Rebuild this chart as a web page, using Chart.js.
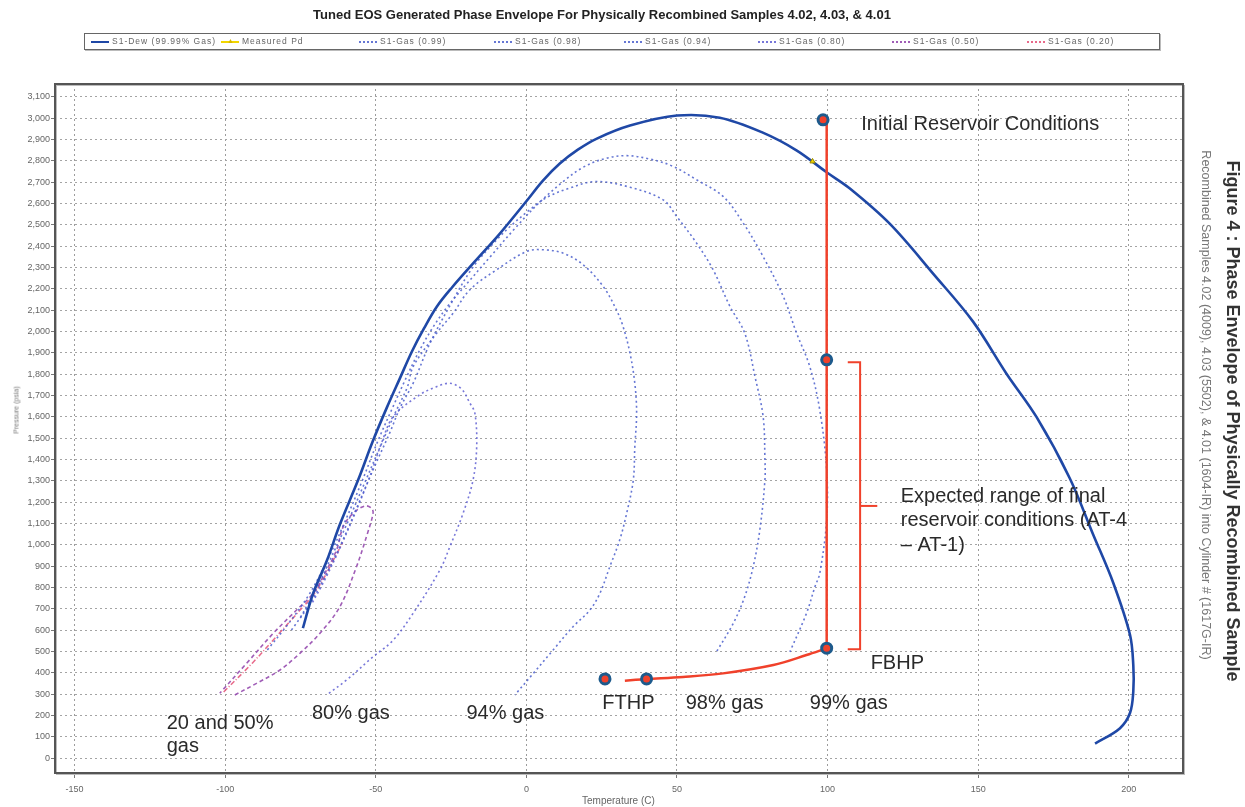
<!DOCTYPE html>
<html>
<head>
<meta charset="utf-8">
<script src="https://cdn.jsdelivr.net/npm/chart.js@4.4.1/dist/chart.umd.min.js"></script>
<style>
  body { margin: 0; background: #fff; font-family: 'Liberation Sans', Arial, sans-serif; }
  #wrap { position: relative; width: 1245px; height: 807px; overflow: hidden; }
  #chart { position: absolute; left: 0; top: 0; }
  .title { position: absolute; left: 202px; width: 800px; top: 7px; text-align: center; font-weight: bold; font-size: 13px; color: #222; white-space: nowrap; }
  .legend { position: absolute; left: 84px; top: 33px; width: 1074px; height: 15px; border: 1px solid #666; box-shadow: 1px 1px 0 #bbb; }
  .lg { position: absolute; top: 3px; font-size: 8.5px; letter-spacing: 1px; color: #666; white-space: nowrap; line-height: 9px; }
  .lg i { display: inline-block; width: 18px; height: 0; vertical-align: middle; margin-right: 3px; }
  .rot { position: absolute; white-space: nowrap; transform-origin: center center; }
</style>
</head>
<body>
<div id="wrap">
  <canvas id="chart" width="1245" height="807"></canvas>
  <div class="title">Tuned EOS Generated Phase Envelope For Physically Recombined Samples 4.02, 4.03, &amp; 4.01</div>
  <div class="legend" id="legend"></div>
  <div class="rot" style="left:1232px;top:421px;font-size:18px;font-weight:bold;color:#333;transform:translate(-50%,-50%) rotate(90deg);">Figure 4 : Phase Envelope of Physically Recombined Sample</div>
  <div class="rot" style="left:1206px;top:405px;font-size:12.5px;color:#777;transform:translate(-50%,-50%) rotate(90deg);">Recombined Samples 4.02 (4009), 4.03 (5502), &amp; 4.01 (1604-IR) into Cylinder # (1617G-IR)</div>
  <div class="rot" style="left:16px;top:410px;font-size:7px;color:#777;transform:translate(-50%,-50%) rotate(-90deg);">Pressure (psia)</div>
  <div class="rot" style="left:582px;top:795px;font-size:10px;color:#666;">Temperature (C)</div>
</div>
<script>
// Temperature (C), Pressure (psia) pairs
const dewT = [-74.2, -70.9, -66.2, -61.9, -55.9, -51, -46.3, -42, -38, -34, -29.7, -24.7, -17.1, -8.8, 0.2, 5.5, 11.1, 17.1, 23.4, 34.4, 50, 64.2, 78.5, 89.8, 99.8, 107.4, 120.7, 135.1, 148.3, 159.4, 169.4, 180.4, 188.2, 194.8, 200.4, 201.5, 201.5, 200.4, 197, 188.8];
const dewP = [609, 768, 927, 1096, 1302, 1485, 1644, 1780, 1906, 2014, 2117, 2206, 2328, 2459, 2614, 2707, 2787, 2852, 2904, 2965, 3012, 3002, 2932, 2848, 2745, 2670, 2504, 2270, 2046, 1802, 1598, 1312, 1047, 823, 578, 435, 313, 211, 139, 68];

const gas99T = [-86, -79, -72, -66, -60.5, -54.5, -49.5, -44.5, -40, -35.5, -31, -26, -20, -12, -4, 4, 12, 18.9, 26, 33.3, 41, 48.7, 56.5, 65.3, 72, 78.6, 85.3, 89.7, 94.1, 97.4, 99.7, 99.7, 97.4, 95.8, 93, 87.5];
const gas99P = [507, 630, 770, 930, 1100, 1300, 1480, 1640, 1780, 1910, 2020, 2120, 2220, 2350, 2480, 2600, 2700, 2770, 2810, 2824, 2808, 2774, 2711, 2633, 2508, 2351, 2164, 1992, 1835, 1632, 1351, 1116, 866, 803, 679, 498];

const gas98T = [-78, -72, -66.5, -61, -55.5, -50, -45.5, -42, -37.5, -32, -24.3, -17.6, -9.8, -5.4, 1.1, 7, 14.4, 23, 34.4, 45.4, 49.9, 56.5, 62, 67.6, 72.5, 75.9, 78.6, 79.2, 79.2, 77.5, 75.3, 72.5, 68.7, 63.1];
const gas98P = [600, 720, 860, 1020, 1200, 1380, 1520, 1640, 1760, 1945, 2148, 2304, 2430, 2492, 2570, 2630, 2672, 2703, 2676, 2617, 2539, 2414, 2289, 2117, 1992, 1788, 1601, 1400, 1304, 1069, 897, 757, 632, 498];

const gas94T = [-75, -69.5, -64.5, -59.5, -54, -48.5, -43.5, -39.5, -37.6, -29.8, -24.3, -18.8, -9.9, 0.1, 5.6, 12.2, 18.9, 25.5, 29.9, 32.1, 34.4, 36, 36.6, 36, 35.5, 33.3, 31, 27.7, 24.4, 21.1, 15.5, 8.9, 2.3, -3.8];
const gas94P = [660, 800, 950, 1100, 1280, 1460, 1620, 1740, 1835, 1992, 2086, 2195, 2289, 2375, 2383, 2367, 2312, 2211, 2101, 2023, 1898, 1757, 1617, 1460, 1304, 1148, 1023, 897, 772, 694, 616, 507, 397, 296];

const gas80T = [-71, -67.5, -63, -58, -52.5, -48, -44.2, -35.4, -30, -25.4, -21.5, -18.8, -17.1, -16.5, -17.7, -21, -25.4, -28.7, -37.6, -44.2, -50.9, -59.7, -66.3];
const gas80P = [730, 820, 950, 1110, 1300, 1480, 1601, 1703, 1740, 1757, 1730, 1665, 1617, 1460, 1304, 1148, 991, 882, 679, 553, 475, 366, 296];

const gas50T = [-96.8, -89.6, -81.8, -75.2, -68.6, -61.9, -56.4, -53.1, -50.9, -51.4, -53.6, -57.5, -60.8, -63, -66.3, -70.8, -76.3, -84.1, -92.9, -101.8];
const gas50P = [296, 350, 413, 491, 584, 710, 897, 1038, 1148, 1171, 1182, 1148, 1085, 976, 882, 772, 694, 584, 444, 304];

const gas20T = [-100.5, -91, -83, -76, -71, -67, -64, -61];
const gas20P = [310, 445, 570, 680, 760, 850, 930, 1010];

const measuredT = [95];
const measuredP = [2797];

// red annotation marks
const wellT = [98.5, 99.7, 99.7, 26.1, 39.9];
const wellP = [2992, 1867, 515, 371, 371];
const flowT = [32.7, 39.9, 52, 65.3, 82, 93, 99.7];
const flowP = [363, 370, 380, 397, 436, 483, 515];
const riserT = [99.7, 99.7];
const riserP = [515, 2992];
const bracketT = [106.7, 110.8, 110.8, 106.7];
const bracketP = [1855, 1855, 510, 510];
const bracketTipT = [110.8, 116.5];
const bracketTipP = [1182, 1182];

const legendLabels = ['S1-Dew (99.99% Gas)', 'Measured Pd', 'S1-Gas (0.99)', 'S1-Gas (0.98)', 'S1-Gas (0.94)', 'S1-Gas (0.80)', 'S1-Gas (0.50)', 'S1-Gas (0.20)'];

// note texts: [text, T, P]
const notes = [
  ['Initial Reservoir Conditions', 111.2, 2970],
  ['Expected range of final', 124.3, 1227],
  ['reservoir conditions (AT-4', 124.3, 1115],
  ['\u2013 AT-1)', 124.3, 998],
  ['FBHP', 114.3, 445],
  ['FTHP', 25.2, 258],
  ['98% gas', 52.9, 258],
  ['99% gas', 94.1, 258],
  ['94% gas', -19.9, 211],
  ['80% gas', -71.2, 211],
  ['20 and 50%', -119.4, 164],
  ['gas', -119.4, 52]
];

const pts = (xs, ys) => xs.map((x, i) => ({ x, y: ys[i] }));

const DEW = '#1f48a6';
const GASBLUE = 'rgba(75,95,205,0.85)';
const RED = '#f0412b';

function curve(label, xs, ys, color, width, dash) {
  return { label, data: pts(xs, ys), showLine: true, borderColor: color, borderWidth: width,
    borderDash: dash, pointRadius: 0, tension: 0.35, fill: false };
}

const datasets = [
  { label: 'wells', data: pts(wellT, wellP), showLine: false, pointRadius: 5, pointBorderWidth: 3,
    pointBackgroundColor: RED, pointBorderColor: '#1d5a8c' },
  curve('riser', riserT, riserP, RED, 2.5, []),
  curve('flow', flowT, flowP, RED, 2.5, []),
  { ...curve('bracket', bracketT, bracketP, RED, 2, []), tension: 0 },
  { ...curve('bracketTip', bracketTipT, bracketTipP, RED, 2, []), tension: 0 },
  { label: legendLabels[1], data: pts(measuredT, measuredP), showLine: false, pointStyle: 'triangle',
    pointRadius: 3, pointBackgroundColor: '#f2d600', pointBorderColor: '#9a8a00', pointBorderWidth: 1 },
  curve(legendLabels[0], dewT, dewP, DEW, 2.6, []),
  curve(legendLabels[2], gas99T, gas99P, GASBLUE, 1.6, [2, 3]),
  curve(legendLabels[3], gas98T, gas98P, GASBLUE, 1.6, [2, 3]),
  curve(legendLabels[4], gas94T, gas94P, GASBLUE, 1.6, [2, 3]),
  curve(legendLabels[5], gas80T, gas80P, 'rgba(95,95,210,0.85)', 1.6, [2, 3]),
  curve(legendLabels[6], gas50T, gas50P, 'rgba(150,75,175,0.9)', 1.6, [4, 3]),
  curve(legendLabels[7], gas20T, gas20P, 'rgba(230,90,125,0.9)', 1.5, [5, 2, 1, 2])
];

const frame = {
  id: 'frame',
  afterDraw(chart) {
    const { ctx, chartArea: a } = chart;
    ctx.save();
    ctx.strokeStyle = '#bbb';
    ctx.lineWidth = 1;
    ctx.strokeRect(a.left + 1.5, a.top + 1.5, a.right - a.left, a.bottom - a.top);
    ctx.strokeStyle = '#555';
    ctx.lineWidth = 2;
    ctx.strokeRect(a.left, a.top, a.right - a.left, a.bottom - a.top);
    ctx.restore();
  }
};

const noteText = {
  id: 'noteText',
  afterDatasetsDraw(chart) {
    const { ctx, scales: { x, y } } = chart;
    ctx.save();
    ctx.font = "20px 'Liberation Sans', Arial, sans-serif";
    ctx.fillStyle = '#2a2a2a';
    ctx.textBaseline = 'middle';
    ctx.textAlign = 'left';
    notes.forEach(([t, tx, py]) => ctx.fillText(t, x.getPixelForValue(tx), y.getPixelForValue(py)));
    ctx.restore();
  }
};

const tickFont = { family: "'Liberation Sans', Arial, sans-serif", size: 9 };

new Chart(document.getElementById('chart'), {
  type: 'scatter',
  data: { datasets },
  plugins: [frame, noteText],
  options: {
    responsive: false,
    animation: false,
    layout: { padding: { left: 0, top: 84, right: 62, bottom: 0 } },
    plugins: { legend: { display: false }, tooltip: { enabled: false } },
    scales: {
      x: {
        type: 'linear', min: -156.5, max: 218,
        afterFit: s => { s.height = 34; },
        ticks: { stepSize: 50, includeBounds: false, color: '#666', font: tickFont, padding: 6 },
        grid: { color: '#9c9c9c', lineWidth: 1, tickLength: 5, tickColor: '#777' },
        border: { display: false, dash: [2, 3] }
      },
      y: {
        type: 'linear', min: -70, max: 3160,
        afterFit: s => { s.width = 55; },
        ticks: { stepSize: 100, includeBounds: false, color: '#666', font: tickFont, padding: 1,
          callback: v => v.toLocaleString('en-US') },
        grid: { color: '#a4a4a4', lineWidth: 1, tickLength: 4, tickColor: '#777' },
        border: { display: false, dash: [2, 3] }
      }
    }
  }
});

// legend row
const legendLeft = [6, 136, 274, 409, 539, 673, 807, 942];
const legendSample = [
  'border-top:2px solid ' + DEW,
  'border-top:2px solid #f2d600',
  'border-top:2px dotted ' + GASBLUE,
  'border-top:2px dotted ' + GASBLUE,
  'border-top:2px dotted ' + GASBLUE,
  'border-top:2px dotted rgba(95,95,210,0.85)',
  'border-top:2px dotted rgba(150,75,175,0.9)',
  'border-top:2px dotted rgba(230,90,125,0.9)'
];
const lg = document.getElementById('legend');
legendLabels.forEach((t, i) => {
  const d = document.createElement('div');
  d.className = 'lg';
  d.style.left = legendLeft[i] + 'px';
  const mark = i === 1 ? '<span style="position:absolute;left:6px;top:-1px;color:#d8b800;font-size:7px;letter-spacing:0;">&#9650;</span>' : '';
  d.innerHTML = '<i style="' + legendSample[i] + '"></i>' + mark + t;
  lg.appendChild(d);
});
</script>
</body>
</html>
